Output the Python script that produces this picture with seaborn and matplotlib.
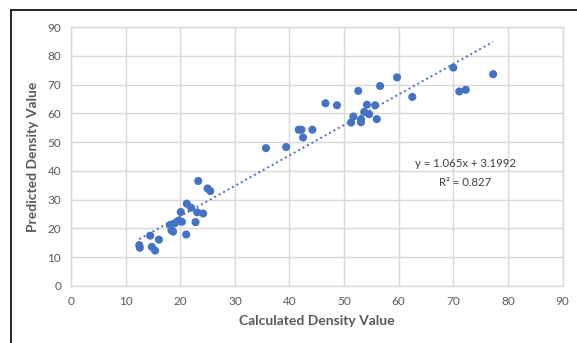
import numpy as np
import pandas as pd
import matplotlib.pyplot as plt
import seaborn as sns
from matplotlib.lines import Line2D

calculated = [12.5, 12.6, 14.5, 14.8, 15.4, 16.1, 18.1, 18.4, 18.7, 19.0,
              19.7, 20.3, 20.1, 21.1, 21.2, 22.0, 23.1, 24.2, 22.8, 23.3,
              25.0, 25.5,
              35.7, 39.4, 41.7, 42.2, 42.5, 44.2, 46.6, 48.7, 51.3, 51.7,
              52.6, 53.1, 53.1, 54.2, 53.7, 54.6, 55.7, 56.0, 56.6, 59.7,
              62.5, 70.0, 71.1, 72.3, 77.3]
predicted = [14.2, 13.3, 17.5, 13.6, 12.3, 16.1, 21.2, 19.4, 18.9, 21.8,
             22.7, 22.3, 25.7, 17.9, 28.6, 27.2, 25.6, 25.2, 22.2, 36.5,
             33.9, 33.0,
             47.9, 48.3, 54.3, 54.3, 51.6, 54.3, 63.5, 62.8, 56.8, 58.9,
             67.8, 57.9, 56.9, 63.0, 60.5, 59.7, 62.8, 58.0, 69.5, 72.5,
             65.7, 75.9, 67.6, 68.2, 73.6]

df = pd.DataFrame({'calc': calculated, 'pred': predicted})

sns.set_style('white')
plt.rcParams['font.family'] = ['Lato', 'DejaVu Sans']

fig = plt.figure(figsize=(5.77, 3.43), dpi=100)
ax = fig.add_axes([71 / 577, 1 - 286 / 343, (562.5 - 71) / 577, (286 - 27) / 343])

grid = '#d9d9d9'
ax.set_xlim(0, 90)
ax.set_ylim(0, 90)
ax.set_xticks(range(0, 91, 10))
ax.set_yticks(range(0, 91, 10))
ax.grid(True, color=grid, linewidth=1)
ax.set_axisbelow(True)
for s in ax.spines.values():
    s.set_color(grid)
    s.set_linewidth(1)

sns.regplot(data=df, x='calc', y='pred', ax=ax, ci=None,
            scatter_kws={'s': 34, 'color': '#4472c4', 'edgecolor': 'none', 'alpha': 1},
            line_kws={'color': '#4472c4', 'linestyle': (0, (1, 1.6)), 'linewidth': 1.4})

ax.tick_params(axis='both', length=0, labelsize=8.5, labelcolor='#595959', pad=7)
ax.set_xlabel('Calculated Density Value', fontsize=10, fontweight='bold',
              color='#595959', labelpad=6)
ax.set_ylabel('Predicted Density Value', fontsize=10, fontweight='bold',
              color='#595959', labelpad=6)

ax.text(72.2, 42.6, 'y = 1.065x + 3.1992', ha='center', va='center',
        fontsize=8.2, color='#404040')
ax.text(72.2, 36.1, 'R² = 0.827', ha='center', va='center',
        fontsize=8.2, color='#404040')

# outer chart border (top and left visible)
fig.add_artist(Line2D([11 / 577, 1], [1 - 10 / 343, 1 - 10 / 343],
                      transform=fig.transFigure, color='black', linewidth=1.2))
fig.add_artist(Line2D([11 / 577, 11 / 577], [0, 1 - 10 / 343],
                      transform=fig.transFigure, color='black', linewidth=1.2))

fig.savefig('out.png', dpi=100)
